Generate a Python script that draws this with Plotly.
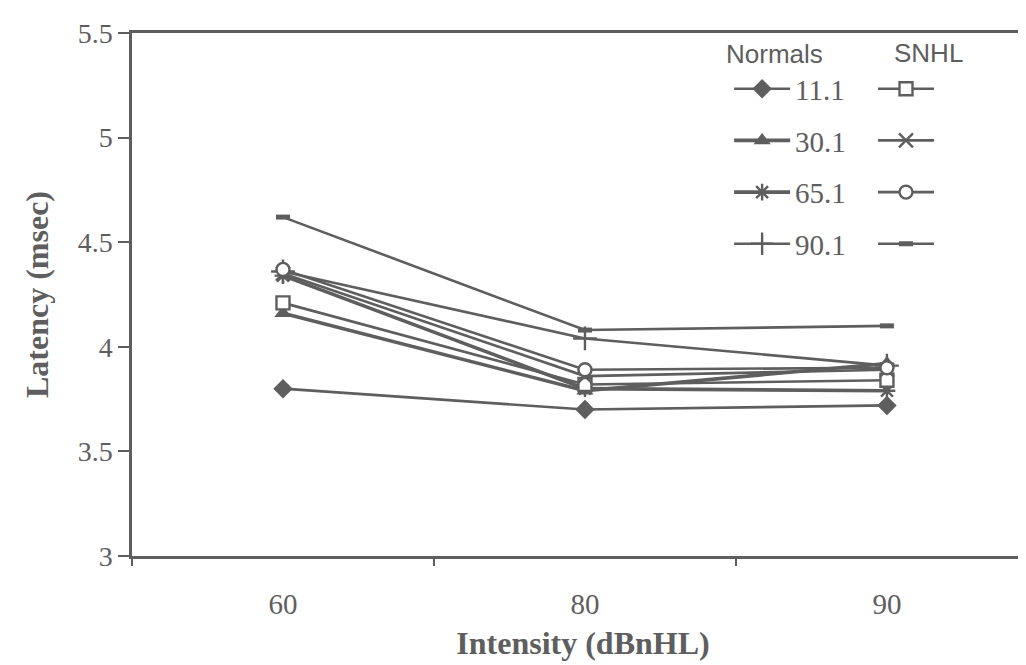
import plotly.graph_objects as go

intensity = ["60", "80", "90"]
series_labels = ["11.1", "30.1", "65.1", "90.1"]

normals_11 = [3.80, 3.70, 3.72]
normals_30 = [4.16, 3.79, 3.92]
normals_65 = [4.34, 3.80, 3.79]
normals_90 = [4.36, 4.04, 3.91]

snhl_11 = [4.21, 3.82, 3.84]
snhl_30 = [4.35, 3.86, 3.89]
snhl_65 = [4.37, 3.89, 3.90]
snhl_90 = [4.62, 4.08, 4.10]

GRAY = "#5e5e5e"
SERIF = "Liberation Serif"
SANS = "Liberation Sans"

fig = go.Figure()

normals = [normals_11, normals_30, normals_65, normals_90]
snhl = [snhl_11, snhl_30, snhl_65, snhl_90]
n_widths = [2.6, 3.6, 3.6, 2.6]

n_markers = [
    dict(symbol="diamond", size=15, color=GRAY, line=dict(width=0)),
    dict(symbol="triangle-up", size=15, color=GRAY, line=dict(width=0)),
    dict(symbol="asterisk-open", size=14, color=GRAY, line=dict(width=2.4, color=GRAY)),
    dict(symbol="cross-thin-open", size=17, color=GRAY, line=dict(width=2.4, color=GRAY)),
]
s_markers = [
    dict(symbol="square", size=13, color="white", line=dict(width=2.4, color=GRAY)),
    dict(symbol="x-thin-open", size=14, color=GRAY, line=dict(width=2.4, color=GRAY)),
    dict(symbol="circle", size=13, color="white", line=dict(width=2.4, color=GRAY)),
    dict(symbol="line-ew-open", size=10, color=GRAY, line=dict(width=5, color=GRAY)),
]

for i, (vals, lab) in enumerate(zip(normals, series_labels)):
    fig.add_trace(go.Scatter(
        x=intensity, y=vals, mode="lines+markers", name=lab,
        line=dict(color=GRAY, width=n_widths[i]), marker=n_markers[i],
        legend="legend", legendgroup="n" + lab,
    ))
for i, (vals, lab) in enumerate(zip(snhl, series_labels)):
    fig.add_trace(go.Scatter(
        x=intensity, y=vals, mode="lines+markers", name="\u00a0",
        line=dict(color=GRAY, width=2.6), marker=s_markers[i],
        legend="legend2", legendgroup="s" + lab,
    ))

legend_common = dict(
    bgcolor="rgba(0,0,0,0)", borderwidth=0,
    font=dict(family=SERIF, size=29, color=GRAY),
    tracegroupgap=11, yanchor="top", xanchor="left", itemwidth=56,
)

fig.update_layout(
    width=1026, height=665,
    margin=dict(l=124, r=0, t=25, b=117),
    paper_bgcolor="white", plot_bgcolor="white",
    showlegend=True,
    legend=dict(x=0.662, y=0.942, **legend_common),
    legend2=dict(x=0.8215, y=0.942, **legend_common),
    xaxis=dict(
        type="category", categoryorder="array", categoryarray=intensity,
        range=[-0.5, 2.487], showline=True, linecolor=GRAY, linewidth=2.5,
        mirror=True, ticks="outside", tickson="boundaries", ticklen=7,
        tickcolor=GRAY, tickwidth=1.5, showgrid=False,
        tickfont=dict(family=SERIF, size=29, color=GRAY),
        ticklabelstandoff=20,
        title=dict(text="Intensity (dBnHL)", standoff=14,
                   font=dict(family=SERIF, size=32, color=GRAY, weight="bold")),
        automargin=False,
    ),
    yaxis=dict(
        range=[3, 5.5], tick0=3, dtick=0.5, showline=True, linecolor=GRAY,
        linewidth=2.5, ticks="outside", ticklen=11, tickcolor=GRAY, tickwidth=2,
        showgrid=False, zeroline=False,
        tickfont=dict(family=SERIF, size=28, color=GRAY),
        title=dict(text="Latency (msec)", standoff=20,
                   font=dict(family=SERIF, size=32, color=GRAY, weight="bold")),
        automargin=False,
    ),
    annotations=[
        dict(text="Normals", xref="paper", yref="paper", x=0.7125, y=0.96,
             xanchor="center", yanchor="middle",
             showarrow=False, font=dict(family=SANS, size=26, color=GRAY)),
        dict(text="SNHL", xref="paper", yref="paper", x=0.8825, y=0.962,
             xanchor="center", yanchor="middle",
             showarrow=False, font=dict(family=SANS, size=26, color=GRAY)),
    ],
)

fig.write_html("out.html")
